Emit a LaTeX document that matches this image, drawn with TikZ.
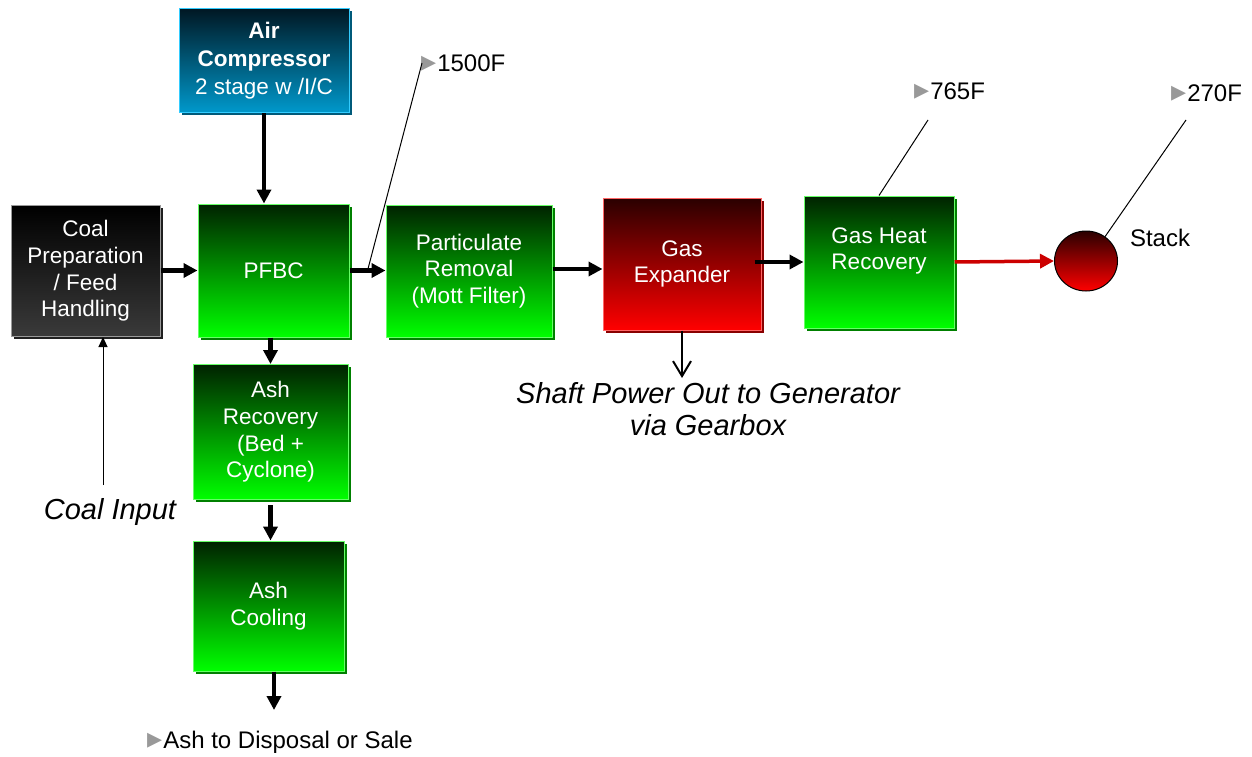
\documentclass[tikz,border=0pt]{standalone}
\usepackage{fontspec}
\setmainfont{Liberation Sans}
\newfontfamily\symfont{DejaVu Sans}
\usetikzlibrary{arrows.meta,shadows,calc,shapes.geometric}

\definecolor{gtop}{HTML}{002200}
\definecolor{gbot}{HTML}{00FF00}
\definecolor{grim}{HTML}{66FF66}
\definecolor{gshad}{HTML}{008000}
\definecolor{rtop}{HTML}{2A0000}
\definecolor{rbot}{HTML}{FF0000}
\definecolor{rrim}{HTML}{FF6666}
\definecolor{rshad}{HTML}{8A0000}
\definecolor{btop}{HTML}{001824}
\definecolor{bbot}{HTML}{0099CC}
\definecolor{brim}{HTML}{33CCFF}
\definecolor{bshad}{HTML}{005A7A}
\definecolor{ktop}{HTML}{000000}
\definecolor{kbot}{HTML}{3A3A3A}
\definecolor{krim}{HTML}{9A9A9A}
\definecolor{kshad}{HTML}{202020}
\definecolor{hotline}{HTML}{CC0000}
\definecolor{tagtri}{HTML}{999999}

\newcommand{\tagmark}{{\symfont\fontsize{30}{30}\selectfont\color{tagtri}▸}\kern1pt}

\begin{document}
\begin{tikzpicture}[x=1pt,y=-1pt,
    unit/.style={rectangle, text=white, align=center, line width=1pt, inner sep=2pt,
      font=\fontsize{22.5}{26.7}\selectfont},
    greenunit/.style={unit, draw=grim, top color=gtop, bottom color=gbot,
      drop shadow={shadow xshift=2.5pt, shadow yshift=-2.5pt, fill=gshad, opacity=1}},
    redunit/.style={unit, draw=rrim, top color=rtop, bottom color=rbot,
      drop shadow={shadow xshift=2.5pt, shadow yshift=-2.5pt, fill=rshad, opacity=1}},
    blueunit/.style={unit, draw=brim, top color=btop, bottom color=bbot,
      drop shadow={shadow xshift=2.5pt, shadow yshift=-2.5pt, fill=bshad, opacity=1}},
    coalunit/.style={unit, draw=krim, top color=ktop, bottom color=kbot,
      drop shadow={shadow xshift=2.5pt, shadow yshift=-2.5pt, fill=kshad, opacity=1}},
    flow/.style={line width=4.5pt, -{Triangle[length=14pt,width=14pt]}},
    hotflow/.style={line width=3.5pt, hotline, -{Triangle[length=14pt,width=14pt]}},
    thinflow/.style={line width=1pt, -{Triangle[length=10pt,width=9pt]}},
    tag/.style={font=\fontsize{24}{28}\selectfont, inner sep=0pt, anchor=west},
    note/.style={font=\itshape\fontsize{29}{32}\selectfont, align=center, inner sep=0pt},
    callout/.style={line width=1pt}]
  \useasboundingbox (0,0) rectangle (1252,757);

  % units
  \node[blueunit, minimum width=170pt, minimum height=104pt,
    font=\fontsize{22.5}{28}\selectfont] (aircomp) at (264,61)
    {\textbf{Air}\\\textbf{Compressor}\\2 stage w /I/C};
  \node[coalunit, minimum width=149pt, minimum height=131pt] (coalprep) at (85.5,271)
    {Coal\\Preparation\\/ Feed\\Handling};
  \node[greenunit, minimum width=151pt, minimum height=133pt] (pfbc) at (273.5,270.5) {PFBC};
  \node[greenunit, minimum width=166pt, minimum height=132pt] (partrem) at (469,271)
    {Particulate\\Removal\\(Mott Filter)};
  \node[redunit, minimum width=158pt, minimum height=132pt] (expander) at (682,264)
    {Gas\\Expander};
  \node[greenunit, minimum width=150pt, minimum height=132pt] (heatrec) at (879,262)
    {Gas Heat\\Recovery\\\mbox{}};
  \node[greenunit, minimum width=155pt, minimum height=135pt] (ashrec) at (270.5,432)
    {Ash\\Recovery\\(Bed +\\Cyclone)};
  \node[greenunit, minimum width=151pt, minimum height=130pt] (ashcool) at (268.5,606)
    {Ash\\Cooling};
  \node[ellipse, draw=black, line width=1pt, top color=rtop, bottom color=rbot,
    minimum width=63pt, minimum height=60pt, inner sep=0pt] (stack) at (1086,261) {};

  % labels
  \node[tag, anchor=center] (stacklbl) at (1160,238) {Stack};
  \node[tag] (t1500) at (421,63) {\tagmark 1500F};
  \node[tag] (t765) at (914,91) {\tagmark 765F};
  \node[tag] (t270) at (1171,93) {\tagmark 270F};
  \node[tag] (ashout) at (147,742) {\tagmark Ash to Disposal or Sale};
  \node[note] (shaft) at (708,409) {Shaft Power Out to Generator\\via Gearbox};
  \node[note] (coalin) at (110,512) {Coal Input};

  \coordinate (ashend) at (274,710);
  \coordinate (shaftend) at (682,378);
  \coordinate (coalstart) at (103,485);
  \coordinate (c765) at (928,120);
  \coordinate (c270) at (1186,120);

  % flows
  \draw[flow] (aircomp.south) -- (aircomp.south |- pfbc.north);
  \draw[flow] (coalprep.east |- pfbc.west) -- (pfbc.west);
  \draw[flow] (pfbc.east) -- (partrem.west |- pfbc.east);
  \draw[flow] ([yshift=2pt]partrem.east) -- ([yshift=2pt]partrem.east -| expander.west);
  \draw[flow] ([xshift=-7pt]heatrec.west -| expander.east) -- (heatrec.west);
  \draw[hotflow] (heatrec.east) -- (stack.west);
  \draw[flow] (ashrec.north |- pfbc.south) -- (ashrec.north);
  \draw[flow] ([yshift=-5pt]ashrec.south) -- (ashrec.south |- ashcool.north);
  \draw[flow] (ashend |- ashcool.south) -- (ashend);
  \draw[line width=2pt, -{Straight Barb[length=15pt,width=18pt]}]
    (expander.south -| shaftend) -- (shaftend);
  \draw[thinflow] (coalstart) -- (coalstart |- coalprep.south);

  % temperature callouts
  \draw[callout] ($(pfbc.east)!0.5!(partrem.west)$) -- ([xshift=1pt]t1500.west);
  \draw[callout] (heatrec.north) -- (c765);
  \draw[callout] (stack.52) -- (c270);
\end{tikzpicture}
\end{document}
